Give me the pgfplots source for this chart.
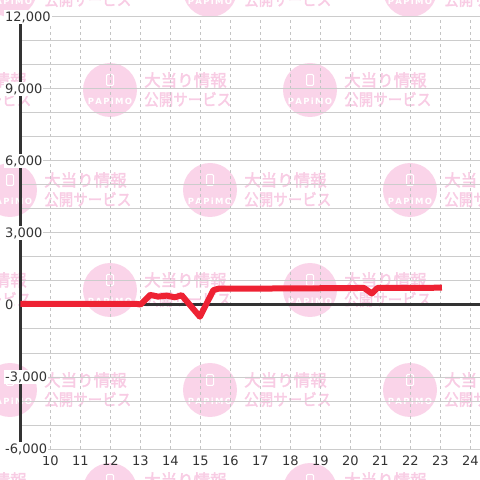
\documentclass[border=0pt]{standalone}
\usepackage{fontspec}
\setmainfont{DejaVu Sans}
\newfontfamily\cjk{Noto Sans CJK JP}[FakeBold=2.2]
\usepackage{pgfplots}
\pgfplotsset{compat=1.18}
\definecolor{wmpink}{RGB}{250,212,233}
\definecolor{wmtext}{RGB}{248,204,228}
\definecolor{axisdark}{RGB}{51,51,51}
\definecolor{gridy}{RGB}{204,204,204}
\definecolor{gridx}{RGB}{196,196,196}
\definecolor{linered}{RGB}{238,34,51}
\newcommand{\wm}[2]{%
  \fill[wmpink] (#1,#2) circle (27);
  \draw[white, line width=1, rounded corners=1.2] (#1-3.5,#2+4.5) rectangle (#1+3.5,#2+15.5);
  \node[white, inner sep=0, font=\fontsize{8.5}{9}\selectfont\bfseries] at (#1,#2-11) {P\kern1.3pt A\kern1.3pt P\kern1.3pt i\kern1.3pt M\kern1.3pt O};
  \node[wmtext, anchor=west, inner sep=0, font=\cjk\fontsize{16.5}{17}\selectfont] at (#1+34,#2+10) {大当り情報};
  \node[wmtext, anchor=west, inner sep=0] at (#1+34,#2-9.5) {\scalebox{0.88}[1]{\cjk\fontsize{16.5}{17}\selectfont 公開サービス}};
}
\pgfplotsset{
  base/.style={
    at={(20.5pt,31pt)}, anchor=south west,
    scale only axis, width=459.5pt, height=432pt,
    xmin=9, xmax=24.317, ymin=-6000, ymax=12000,
    tick style={draw=none},
    major tick length=0pt, minor tick length=0pt,
    /pgf/number format/assume math mode=true,
    /pgf/number format/1000 sep={,},
    scaled y ticks=false,
  }
}
\begin{document}
\begin{tikzpicture}[x=1pt,y=1pt]
\useasboundingbox (0,0) rectangle (480,480);
\begin{scope}
\clip (0,0) rectangle (480,480);
\foreach \yy in {490,290,90} {\foreach \xx in {10,210,410} {\wm{\xx}{\yy}}}
\foreach \yy in {390,190,-10} {\foreach \xx in {-90,110,310} {\wm{\xx}{\yy}}}
\end{scope}
\begin{axis}[
  base,
  xtick={10,...,24}, ytick={-6000,-3000,...,12000}, minor y tick num=2,
  xmajorgrids, ymajorgrids, yminorgrids,
  major x grid style={gridx, dash pattern=on 3pt off 3pt, line width=0.9pt},
  major y grid style={gridy, line width=1pt},
  minor y grid style={gridy, line width=1pt},
  axis y line*=left, axis x line*=bottom,
  x axis line style={draw=none},
  y axis line style={line width=3pt, draw=axisdark},
  yticklabels={},
  xticklabel style={anchor=north, inner sep=0pt, yshift=-7pt, text=axisdark, font=\fontsize{13}{15}\selectfont},
]
\addplot[axisdark, line width=3pt, forget plot] coordinates {(9,0) (24.317,0)};
\addplot[linered, line width=6pt, line join=round] coordinates {
(9,50) (12.85,50) (13.0,20) (13.32,420) (13.59,350) (13.87,390) (14.15,320) (14.37,410)
(14.98,-490) (15.43,620) (15.6,680) (18,690) (20.45,710) (20.71,480) (20.9,710) (23.05,720)
};
\end{axis}
\begin{axis}[
  base,
  axis y line*=left, axis x line*=bottom,
  x axis line style={draw=none}, y axis line style={draw=none},
  xtick=\empty, ytick={-6000,-3000,...,12000},
  yticklabel style={anchor=west, xshift=-16.5pt, fill=white, inner sep=1pt, text=axisdark, font=\fontsize{13}{15}\selectfont},
]
\end{axis}
\end{tikzpicture}
\end{document}
